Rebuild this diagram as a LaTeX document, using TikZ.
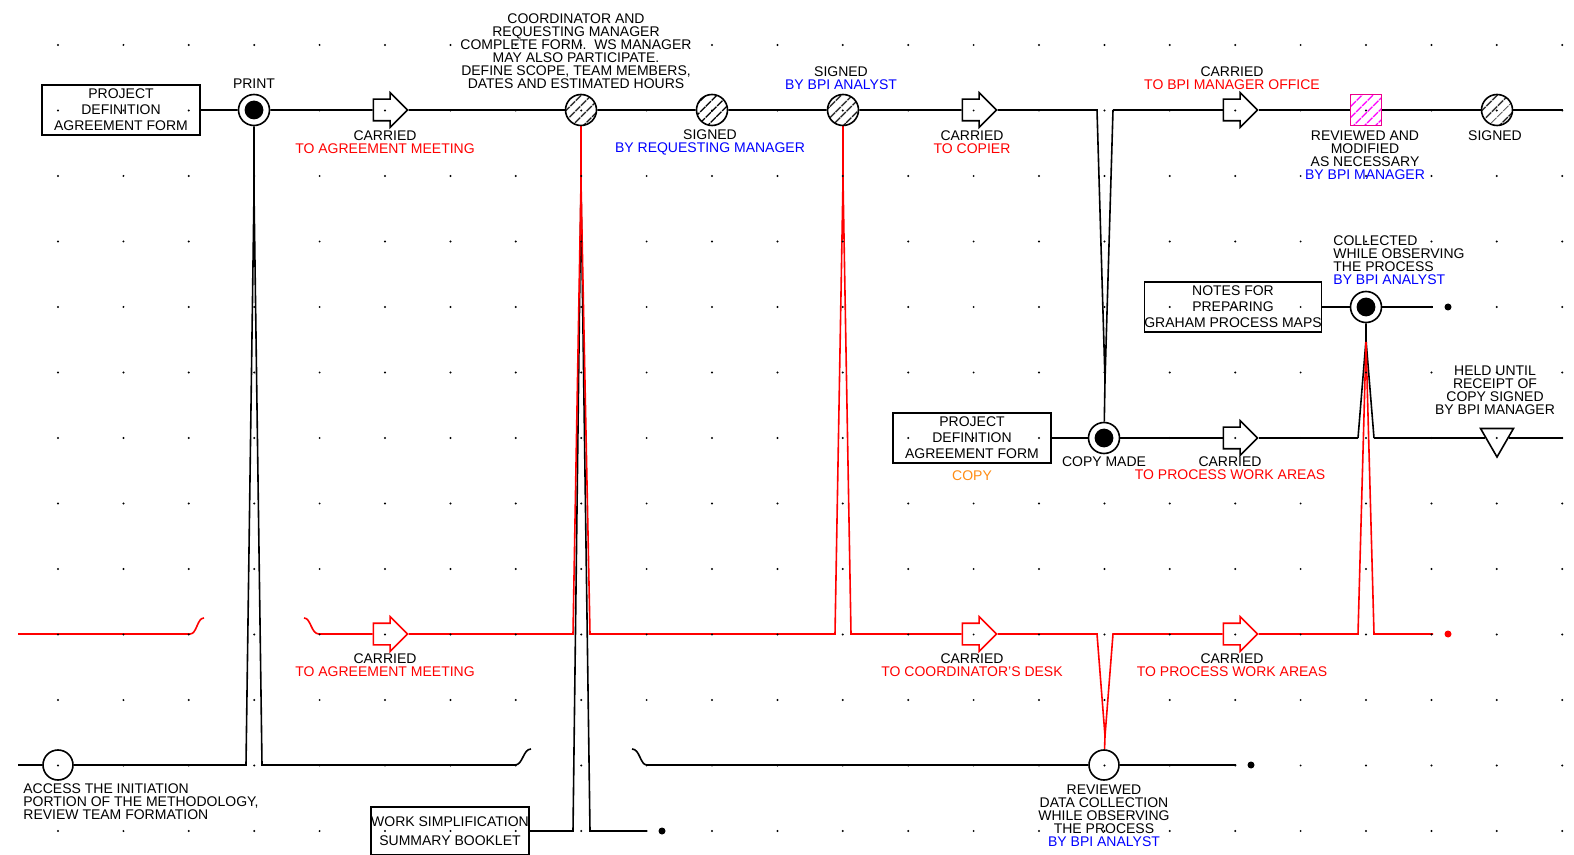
\documentclass[tikz,border=0pt]{standalone}
\usepackage{fontspec}
\setmainfont{Liberation Sans}
\usetikzlibrary{shapes.arrows,shapes.geometric,patterns.meta,backgrounds}
\definecolor{copyorange}{RGB}{255,140,20}
\begin{document}
\begin{tikzpicture}[x=0.5pt,y=-0.5pt,
  flowline/.style={draw=black, line width=0.8pt},
  redline/.style={draw=red, line width=0.8pt},
  lbl/.style={font=\fontsize{7}{6.5}\selectfont, inner sep=0pt, align=center},
  lbll/.style={font=\fontsize{7}{6.5}\selectfont, inner sep=0pt, align=left},
  formbox/.style={draw, line width=0.8pt, fill=white, minimum width=79pt, minimum height=25pt, inner sep=0pt, align=center, font=\fontsize{7}{8}\selectfont},
  opnode/.style={circle, draw, line width=0.8pt, fill=white, minimum size=15.5pt, inner sep=0pt,
     path picture={\fill[black] (path picture bounding box.center) circle[radius=4.7pt];}},
  hatchnode/.style={circle, draw, line width=0.8pt, minimum size=15.5pt, inner sep=0pt, preaction={fill=white},
     pattern={Lines[angle=45,distance=4pt,line width=0.75pt]}},
  sqnode/.style={rectangle, draw=magenta, line width=0.8pt, minimum size=15.5pt, inner sep=0pt, preaction={fill=white},
     pattern={Lines[angle=45,distance=4pt,line width=0.75pt]}, pattern color=magenta},
  opencirc/.style={circle, draw, line width=0.8pt, fill=white, minimum size=15pt, inner sep=0pt},
  carry/.style={single arrow, draw, line width=0.8pt, fill=white, minimum height=17pt, inner xsep=0pt, inner ysep=5pt, single arrow head extend=3.25pt},
  holdtri/.style={regular polygon, regular polygon sides=3, shape border rotate=180, draw, line width=0.8pt, fill=white, minimum size=19pt, inner sep=0pt},
  enddot/.style={circle, fill, minimum size=3.5pt, inner sep=0pt}
]
\useasboundingbox (0,0) rectangle (1574,855);

% ---------- Row A ----------
\node[formbox] (pdaf) at (121,110) {PROJECT\\DEFINITION\\AGREEMENT FORM};
\node[opnode] (print) at (254,110) {};
\node[lbl] (lprint) at (254,84) {PRINT};
\node[carry] (carA1) at (385,110) {};
\node[lbl] (lcarA1) at (385,142.5) {CARRIED\\\textcolor{red}{TO AGREEMENT MEETING}};
\node[hatchnode] (hA1) at (581,110) {};
\node[lbl] (lhA1) at (576,51) {COORDINATOR AND\\REQUESTING MANAGER\\COMPLETE FORM.\ \ WS MANAGER\\MAY ALSO PARTICIPATE.\\DEFINE SCOPE, TEAM MEMBERS,\\DATES AND ESTIMATED HOURS};
\node[hatchnode] (hA2) at (712,110) {};
\node[lbl] (lhA2) at (710,142.5) {SIGNED\\\textcolor{blue}{BY REQUESTING MANAGER}};
\node[hatchnode] (hA3) at (843,110) {};
\node[lbl] (lhA3) at (841,78.5) {SIGNED\\\textcolor{blue}{BY BPI ANALYST}};
\node[carry] (carA2) at (974,110) {};
\node[lbl] (lcarA2) at (972,142.5) {CARRIED\\\textcolor{red}{TO COPIER}};
\coordinate (jA1) at (1097,110);
\coordinate (jA2) at (1113,110);
\coordinate (tA) at (1105,380);
\node[carry] (carA3) at (1235,110) {};
\node[lbl] (lcarA3) at (1232,78.5) {CARRIED\\\textcolor{red}{TO BPI MANAGER OFFICE}};
\node[sqnode] (rev1) at (1366,110) {};
\node[lbl] (lrev1) at (1365,155.5) {REVIEWED AND\\MODIFIED\\AS NECESSARY\\\textcolor{blue}{BY BPI MANAGER}};
\node[hatchnode] (hA4) at (1497,110) {};
\node[lbl] (lhA4) at (1495,136) {SIGNED};
\coordinate (endA) at (1563,110);

% ---------- Row B ----------
\node[formbox] (notes) at (1233,307) {NOTES FOR\\PREPARING\\GRAHAM PROCESS MAPS};
\node[opnode] (coll) at (1366,307) {};
\node[lbll, anchor=west] (lcoll) at (1333,260.5) {COLLECTED\\WHILE OBSERVING\\THE PROCESS\\\textcolor{blue}{BY BPI ANALYST}};
\coordinate (endB) at (1433,307);
\node[enddot] (dotB) at (1448,307) {};
\coordinate (tB) at (1366,340);

% ---------- Row C ----------
\node[formbox] (pdafc) at (972,438) {PROJECT\\DEFINITION\\AGREEMENT FORM};
\node[lbl, text=copyorange] (lcopy) at (972,476) {COPY};
\node[opnode] (copym) at (1104,438) {};
\node[lbl] (lcopym) at (1104,462) {COPY MADE};
\node[carry] (carC) at (1235,438) {};
\node[lbl] (lcarC) at (1230,468.5) {CARRIED\\\textcolor{red}{TO PROCESS WORK AREAS}};
\coordinate (jC1) at (1358,438);
\coordinate (jC2) at (1374,438);
\node[holdtri] (hold) at (1497,438) {};
\node[lbl] (lhold) at (1495,390.5) {HELD UNTIL\\RECEIPT OF\\COPY SIGNED\\BY BPI MANAGER};
\coordinate (endC) at (1563,438);

% ---------- Row D (red) ----------
\coordinate (startD) at (18,634);
\coordinate (hopD1) at (190,634);
\coordinate (hopD2) at (204,618);
\coordinate (hopD3) at (304,618);
\coordinate (hopD4) at (319,634);
\node[carry, draw=red] (carD1) at (385,634) {};
\node[lbl] (lcarD1) at (385,665.5) {CARRIED\\\textcolor{red}{TO AGREEMENT MEETING}};
\coordinate (jD1) at (573,634);
\coordinate (jD2) at (590,634);
\coordinate (tR1) at (581,182);
\coordinate (jD3) at (835,634);
\coordinate (jD4) at (851,634);
\coordinate (tR2) at (843,180);
\node[carry, draw=red] (carD2) at (974,634) {};
\node[lbl] (lcarD2) at (972,665.5) {CARRIED\\\textcolor{red}{TO COORDINATOR'S DESK}};
\coordinate (jD5) at (1097,634);
\coordinate (jD6) at (1113,634);
\coordinate (tR3) at (1105,736);
\node[carry, draw=red] (carD3) at (1235,634) {};
\node[lbl] (lcarD3) at (1232,665.5) {CARRIED\\\textcolor{red}{TO PROCESS WORK AREAS}};
\coordinate (jD7) at (1358,634);
\coordinate (jD8) at (1374,634);
\coordinate (tR4) at (1366,342);
\coordinate (endD) at (1433,634);
\node[enddot, red] (dotD) at (1448,634) {};

% ---------- Row E ----------
\coordinate (startE) at (18,765);
\node[opencirc] (access) at (58,765) {};
\node[lbll, anchor=west] (lacc) at (23,802) {ACCESS THE INITIATION\\PORTION OF THE METHODOLOGY,\\REVIEW TEAM FORMATION};
\coordinate (jE1) at (246,765);
\coordinate (jE2) at (262,765);
\coordinate (tP) at (254,192);
\coordinate (hopE1) at (515,765);
\coordinate (hopE2) at (531,749);
\coordinate (hopE3) at (632,749);
\coordinate (hopE4) at (647,765);
\node[opencirc] (revd) at (1104,765) {};
\node[lbl] (lrevd) at (1104,815.5) {REVIEWED\\DATA COLLECTION\\WHILE OBSERVING\\THE PROCESS\\\textcolor{blue}{BY BPI ANALYST}};
\coordinate (endE) at (1236,765);
\node[enddot] (dotE) at (1251,765) {};

% ---------- Row F ----------
\node[formbox, minimum height=24pt, font=\fontsize{7}{9.5}\selectfont] (wsb) at (450,831) {WORK SIMPLIFICATION\\SUMMARY BOOKLET};
\coordinate (jF1) at (573,831);
\coordinate (jF2) at (590,831);
\coordinate (endF) at (647,831);
\node[enddot] (dotF) at (662,831) {};
\coordinate (tF) at (581,188);

% ---------- connectors ----------
\begin{scope}[on background layer]
\draw[flowline] (pdaf) -- (print) -- (carA1) -- (hA1) -- (hA2) -- (hA3) -- (carA2) -- (jA1) -- (tA) -- (copym);
\draw[flowline] (jA2) -- (tA);
\draw[flowline] (jA2) -- (carA3) -- (rev1) -- (hA4) -- (endA);
\draw[flowline] (notes) -- (coll) -- (endB);
\draw[flowline] (coll) -- (tB) -- (jC1);
\draw[flowline] (tB) -- (jC2);
\draw[flowline] (pdafc) -- (copym) -- (carC) -- (jC1);
\draw[flowline] (jC2) -- (hold) -- (endC);
\draw[flowline] (startE) -- (access) -- (jE1) -- (tP) -- (print);
\draw[flowline] (tP) -- (jE2) -- (hopE1) .. controls (523,765) and (523,749) .. (hopE2);
\draw[flowline] (hopE3) .. controls (640,749) and (640,765) .. (hopE4) -- (revd) -- (endE);
\draw[flowline] (wsb) -- (jF1) -- (tF) -- (jF2) -- (endF);
\draw[redline] (startD) -- (hopD1) .. controls (197,634) and (197,618) .. (hopD2);
\draw[redline] (hopD3) .. controls (311,618) and (311,634) .. (hopD4) -- (carD1) -- (jD1) -- (tR1) -- (jD2) -- (jD3) -- (tR2) -- (jD4) -- (carD2) -- (jD5) -- (tR3) -- (jD6) -- (carD3) -- (jD7) -- (tR4) -- (jD8) -- (endD);
\draw[redline] (hA1) -- (tR1);
\draw[redline] (hA3) -- (tR2);
\draw[redline] (tR3) -- (revd);
\end{scope}

% ---------- grid dots ----------
\foreach \i in {0,...,23}{\foreach \j in {0,...,12}{\fill ({58+65.4*\i},{45+65.5*\j}) circle[radius=0.55pt];}}
\end{tikzpicture}
\end{document}
